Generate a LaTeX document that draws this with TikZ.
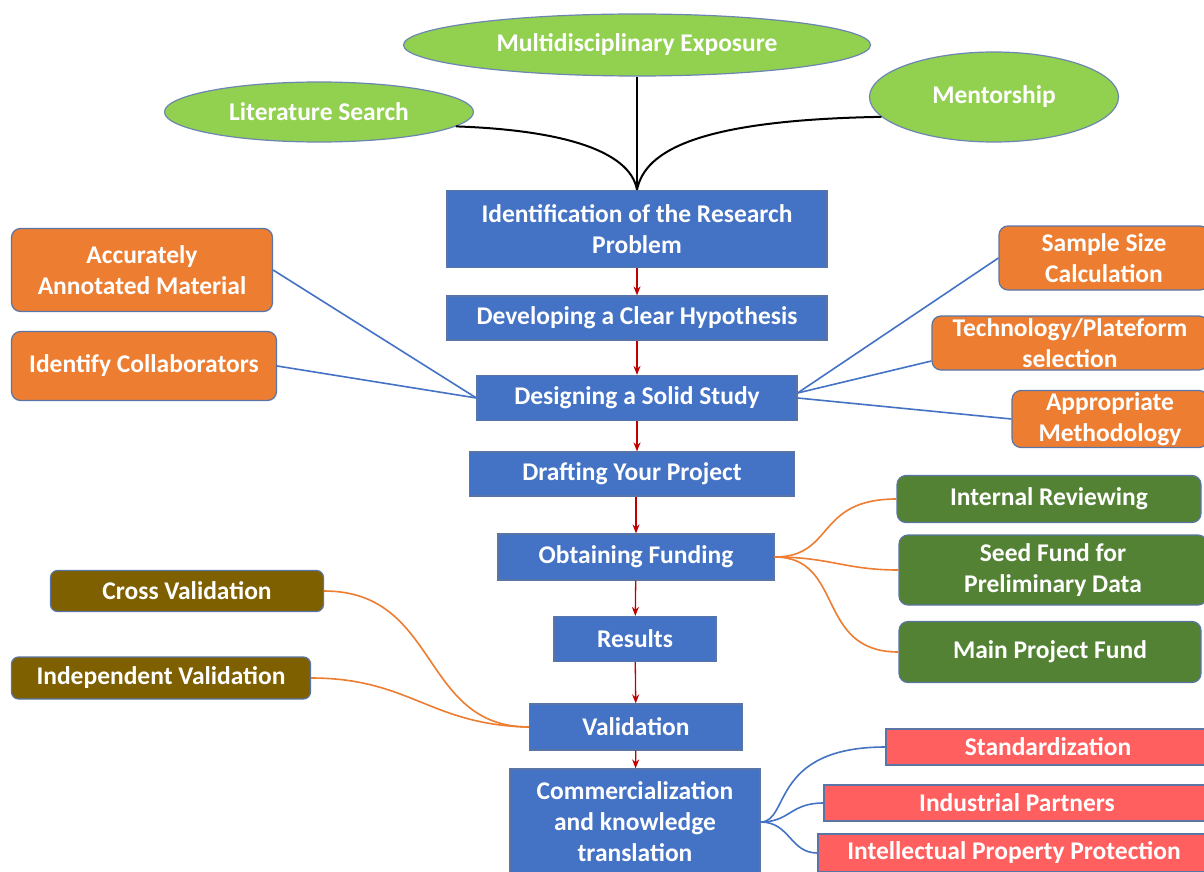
\documentclass[tikz,border=0pt]{standalone}
\usepackage{fontspec}
\setmainfont{Carlito}
\usetikzlibrary{arrows.meta,shapes.geometric}
\definecolor{bluebox}{HTML}{4472C4}
\definecolor{blueedge}{HTML}{2F528F}
\definecolor{greenell}{HTML}{92D050}
\definecolor{orangebox}{HTML}{ED7D31}
\definecolor{greenbox}{HTML}{548235}
\definecolor{brownbox}{HTML}{7F6000}
\definecolor{redbox}{HTML}{FF5F5F}
\definecolor{linkblue}{HTML}{4472C4}
\definecolor{linkorange}{HTML}{ED7D31}
\definecolor{arrowred}{HTML}{C00000}
\tikzset{
  base/.style={text=white, font=\bfseries\fontsize{25.5}{31}\selectfont, align=center, inner sep=0pt, line width=1.2pt},
  ell/.style={base, ellipse, fill=greenell, draw=blueedge!70},
  mainbox/.style={base, rectangle, fill=bluebox, draw=blueedge!80},
  obox/.style={base, rectangle, rounded corners=9pt, fill=orangebox, draw=blueedge!80},
  gbox/.style={base, rectangle, rounded corners=9pt, fill=greenbox, draw=blueedge!80},
  bbox/.style={base, rectangle, rounded corners=7pt, fill=brownbox, draw=blueedge!80},
  rbox/.style={base, rectangle, fill=redbox, draw=blueedge!80},
  flow/.style={draw=arrowred, line width=1.3pt, -{Stealth[length=9pt,width=7pt]}},
  blink/.style={draw=black, line width=2pt},
  llink/.style={draw=linkblue, line width=1.6pt},
  olink/.style={draw=linkorange, line width=1.6pt},
}
\begin{document}
\begin{tikzpicture}[x=1pt,y=-1pt]
\useasboundingbox (0,0) rectangle (1204,872);
\clip (0,0) rectangle (1204,872);
\fill[white] (0,0) rectangle (1204,872);
% ellipses
\node[ell, minimum width=467pt, minimum height=62pt] (multi) at (637,45) {Multidisciplinary Exposure};
\node[ell, minimum width=309pt, minimum height=60pt] (lit) at (319,112) {Literature Search};
\node[ell, minimum width=249pt, minimum height=90pt] (ment) at (994,97) {Mentorship};
% main flow
\node[mainbox, minimum width=380pt, minimum height=77pt] (ident) at (637,229) {Identification of the Research\\Problem};
\node[mainbox, minimum width=380pt, minimum height=44pt] (hyp) at (637,318) {Developing a Clear Hypothesis};
\node[mainbox, minimum width=320pt, minimum height=45pt] (design) at (637,398) {Designing a Solid Study};
\node[mainbox, minimum width=325pt, minimum height=44pt] (draft) at (632,474) {Drafting Your Project};
\node[mainbox, minimum width=276pt, minimum height=46pt] (fund) at (636,557) {Obtaining Funding};
\node[mainbox, minimum width=162pt, minimum height=45pt] (res) at (635,639) {Results};
\node[mainbox, minimum width=213pt, minimum height=46pt] (valid) at (636,727) {Validation};
\node[mainbox, minimum width=250pt, minimum height=106pt] (comm) at (635,822) {Commercialization\\and knowledge\\translation};
% orange
\node[obox, minimum width=261pt, minimum height=83pt] (annot) at (142,270) {Accurately\\Annotated Material};
\node[obox, minimum width=265pt, minimum height=69pt] (collab) at (144,366) {Identify Collaborators};
\node[obox, minimum width=210pt, minimum height=64pt] (sample) at (1104,258) {Sample Size\\Calculation};
\node[obox, minimum width=276pt, minimum height=54pt] (tech) at (1070,343) {Technology/Plateform\\selection};
\node[obox, minimum width=196pt, minimum height=57pt] (meth) at (1110,419) {Appropriate\\Methodology};
% green
\node[gbox, minimum width=304pt, minimum height=47pt] (internal) at (1049,499) {Internal Reviewing};
\node[gbox, minimum width=308pt, minimum height=70pt] (seed) at (1053,570) {Seed Fund for\\Preliminary Data};
\node[gbox, minimum width=302pt, minimum height=61pt] (mainfund) at (1050,652) {Main Project Fund};
% brown
\node[bbox, minimum width=273pt, minimum height=41pt] (cross) at (187,591) {Cross Validation};
\node[bbox, minimum width=299pt, minimum height=42pt] (indep) at (161,678) {Independent Validation};
% red
\node[rbox, minimum width=324pt, minimum height=36pt] (stand) at (1048,747) {Standardization};
\node[rbox, minimum width=386pt, minimum height=36pt] (indus) at (1017,803) {Industrial Partners};
\node[rbox, minimum width=392pt, minimum height=38pt] (ipp) at (1014,853) {Intellectual Property Protection};
% black links
\draw[blink] (multi.south) -- (ident.north);
\draw[blink] (lit.-6.6) .. controls (560,130) and (630,150) .. (ident.north);
\draw[blink] (ment.190) .. controls (700,120) and (645,150) .. (ident.north);
% flow arrows
\draw[flow] (ident) -- (hyp);
\draw[flow] (hyp) -- (design);
\draw[flow] (design.south) -- (design.south |- draft.north);
\draw[flow] (draft.south -| fund.north) -- (fund.north);
\draw[flow] (fund) -- (res);
\draw[flow] (res) -- (valid);
\draw[flow] (valid) -- (comm);
% blue straight links
\draw[llink] (design.west) -- (annot.east);
\draw[llink] (design.west) -- (collab.east);
\draw[llink] (design.east) ++(0,-5) coordinate (dE) -- (sample.west);
\draw[llink] (dE) -- (tech.west |- 0,361);
\draw[llink] (design.east) -- (meth.west);
% orange links funding
\draw[olink] (fund.east) .. controls (835,557) and (815,499) .. (internal.west);
\draw[olink] (fund.east) .. controls (830,557) and (845,570) .. (seed.west);
\draw[olink] (fund.east) .. controls (845,557) and (815,652) .. (mainfund.west);
% orange links validation
\draw[olink] (valid.west) .. controls (420,727) and (440,591) .. (cross.east);
\draw[olink] (valid.west) .. controls (430,725) and (410,678) .. (indep.east);
% blue curved links
\draw[llink] (comm.east) .. controls (790,822) and (770,747) .. (stand.west);
\draw[llink] (comm.east) .. controls (790,822) and (790,803) .. (indus.west);
\draw[llink] (comm.east) .. controls (790,822) and (790,853) .. (ipp.west);
\end{tikzpicture}
\end{document}
